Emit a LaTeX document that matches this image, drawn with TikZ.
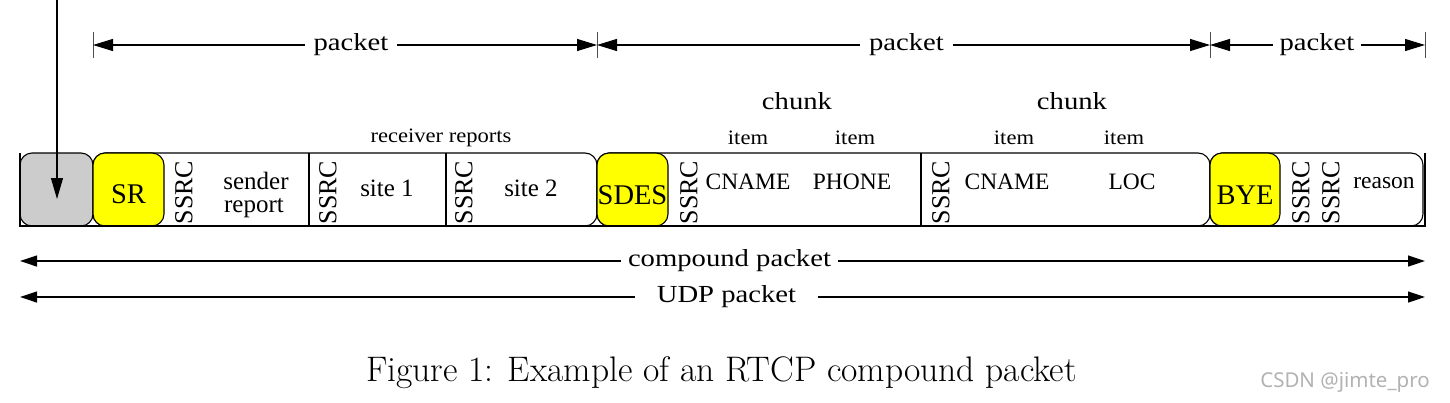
\documentclass[tikz,border=0pt]{standalone}
\usepackage{fontspec}
\newfontfamily\tf{Liberation Serif}
\newfontfamily\tfw[FakeStretch=1.17]{Liberation Serif}
\newfontfamily\tfm[FakeStretch=1.1]{Liberation Serif}
\newfontfamily\wmfont{Noto Sans}
\usetikzlibrary{arrows.meta}
\definecolor{hdr}{HTML}{FFFF00}
\definecolor{hdrgray}{HTML}{CCCCCC}
\definecolor{wmgray}{HTML}{B2B2B2}
\tikzset{
  pbox/.style={draw, line width=1.1pt, rounded corners=12pt},
  ybox/.style={pbox, fill=hdr},
  gbox/.style={pbox, fill=hdrgray},
  divider/.style={draw, line width=1.1pt},
  frameline/.style={draw, line width=1.1pt},
  tick/.style={draw, line width=0.9pt, black!70},
  dimtop/.style={line width=1.2pt, {Triangle[length=20pt,width=12pt]}-{Triangle[length=20pt,width=12pt]}},
  dimbot/.style={line width=1.2pt, {Triangle[length=17pt,width=11pt]}-{Triangle[length=17pt,width=11pt]}},
  downarr/.style={line width=1.1pt, -{Triangle[length=21pt,width=12pt]}},
  dimlbl/.style={fill=white, inner xsep=9pt, inner ysep=2pt, font=\tfw\fontsize{24.5}{26}\selectfont},
  hdrlbl/.style={font=\tf\fontsize{28.5}{30}\selectfont},
  fieldlbl/.style={inner sep=0pt, font=\tf\fontsize{25}{26}\selectfont},
  itemlbl/.style={font=\tf\fontsize{23.5}{25}\selectfont},
  smalllbl/.style={font=\tfm\fontsize{20.5}{22}\selectfont},
  chunklbl/.style={font=\tfw\fontsize{24.5}{26}\selectfont},
  ssrc/.style={rotate=90, inner sep=0pt, font=\tf\fontsize{26}{27}\selectfont},
}
\begin{document}
\begin{tikzpicture}[x=1pt,y=-1pt]
\useasboundingbox (0,0) rectangle (1450,402);
% packet bodies
\path[pbox] (93,153) rectangle (597,226);
\path[pbox] (597,153) rectangle (1210,226);
\path[pbox] (1210,153) rectangle (1423,226);
% headers
\path[gbox] (20,153) rectangle (93,226);
\path[ybox] (93,153) rectangle (164,226);
\path[ybox] (597,153) rectangle (668,226);
\path[ybox] (1210,153) rectangle (1280,226);
% dividers
\path[divider] (309,153) -- (309,226);
\path[divider] (446,153) -- (446,226);
\path[divider] (921,153) -- (921,226);
% frame
\path[frameline] (20,153) -- (20,226) -- (1425,226) -- (1425,153);

% header labels
\node[hdrlbl] (sr) at (128.5,194) {SR};
\node[hdrlbl] (sdes) at (632.5,195) {SDES};
\node[hdrlbl] (bye) at (1245,195) {BYE};

% SSRC labels
\node[ssrc] (s1) at (184,192.5) {SSRC};
\node[ssrc] (s2) at (328,192.5) {SSRC};
\node[ssrc] (s3) at (464,192.5) {SSRC};
\node[ssrc] (s4) at (689,192.5) {SSRC};
\node[ssrc] (s5) at (941,192.5) {SSRC};
\node[ssrc] (s6) at (1301,192.5) {SSRC};
\node[ssrc] (s7) at (1331,192.5) {SSRC};

% field labels
\node[fieldlbl, anchor=base] (sender) at (256,189) {sender};
\node[fieldlbl, anchor=base] (report) at (254,212) {report};
\node[fieldlbl] (site1) at (387,188) {site 1};
\node[fieldlbl] (site2) at (531,188) {site 2};
\node[itemlbl] (cname1) at (748,182) {CNAME};
\node[itemlbl] (phone) at (852,182) {PHONE};
\node[itemlbl] (cname2) at (1007,182) {CNAME};
\node[itemlbl] (loc) at (1132,182) {LOC};
\node[itemlbl] (reason) at (1384,183) {reason};

% upper labels
\node[smalllbl] (rr) at (441,138) {receiver reports};
\node[smalllbl] (it1) at (748,138) {item};
\node[smalllbl] (it2) at (855,138) {item};
\node[smalllbl] (it3) at (1014,138) {item};
\node[smalllbl] (it4) at (1124,138) {item};
\node[chunklbl] (ch1) at (797,101) {chunk};
\node[chunklbl] (ch2) at (1072,101) {chunk};

% top dimension lines
\coordinate (p0) at (93,45);
\coordinate (p1) at (597,45);
\coordinate (p2) at (1210,45);
\coordinate (p3) at (1425,45);
\foreach \c in {p0,p1,p2,p3} {\path[tick] ([yshift=-13pt]\c) -- ([yshift=13pt]\c);}
\draw[dimtop] (p0) -- (p1);
\draw[dimtop] (p1) -- (p2);
\draw[dimtop] (p2) -- (p3);
\node[dimlbl] (pk1) at (351,45) {packet};
\node[dimlbl] (pk2) at (906.5,45) {packet};
\node[dimlbl, inner xsep=7pt] (pk3) at (1317,45) {packet};

% bottom dimension lines
\coordinate (c0) at (20,261);
\coordinate (c1) at (1425,261);
\coordinate (u0) at (20,297);
\coordinate (u1) at (1425,297);
\draw[dimbot] (c0) -- (c1);
\draw[dimbot] (u0) -- (u1);
\node[dimlbl, inner xsep=7pt] (cp) at (729.5,261) {compound packet};
\node[dimlbl, inner xsep=0pt, minimum width=183pt] (udp) at (726.5,297) {UDP packet};

% arrow from top
\coordinate (src) at (57,0);
\coordinate (dst) at (57,199);
\draw[downarr] (src) -- (dst);

% caption
\node[anchor=base, inner sep=0pt] (cap) at (721.5,381.7) {\fontsize{35.5}{37}\selectfont Figure 1: Example of an RTCP compound packet};
\node[text=wmgray, anchor=base] (wm) at (1345,387) {\wmfont\fontsize{20.5}{22}\selectfont CSDN @jimte\_pro};
\end{tikzpicture}
\end{document}
